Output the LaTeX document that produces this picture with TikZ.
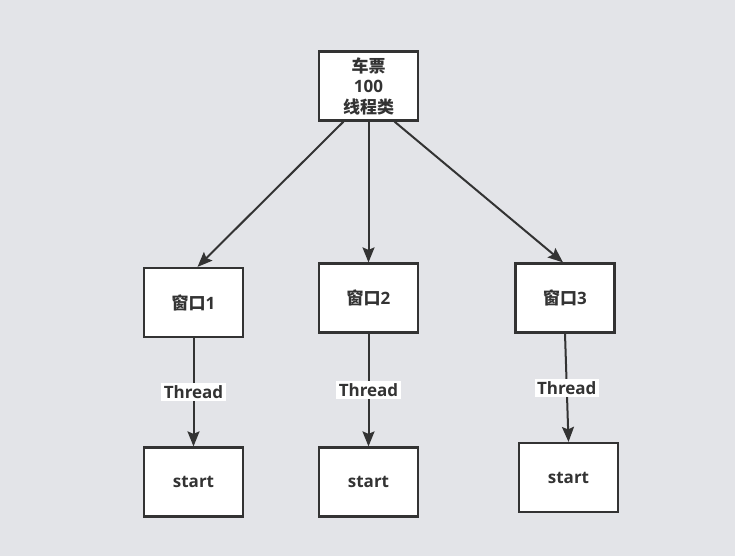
\documentclass[tikz,border=0pt]{standalone}
\usepackage{fontspec}
\setmainfont{Open Sans}
\newfontfamily\cjk{Noto Sans CJK SC}
\usetikzlibrary{positioning, arrows.meta}
\definecolor{bggray}{RGB}{227,228,232}
\definecolor{inkgray}{RGB}{51,51,51}

\begin{document}
\begin{tikzpicture}[x=1pt, y=-1pt,
		kasten/.style={
			rectangle,
			draw=inkgray, line width=2.2pt,
			fill=white,
			text=inkgray,
			font=\fontsize{17}{20.5}\selectfont\bfseries,
			minimum width=99pt,
			minimum height=69pt,
			align=center},
		arrow/.style={draw=inkgray, line width=2pt, -{Stealth[length=15pt, width=12pt, inset=2.5pt]}},
		tlabel/.style={fill=white, text=inkgray, inner sep=2.5pt,
			font=\fontsize{17}{19}\selectfont\bfseries}]
		\fill[bggray] (0,0) rectangle (735,556);
		\useasboundingbox (0,0) rectangle (735,556);
		\node[kasten] (tickets) at (368.5,86) {{\cjk 车票}\\100\\{\cjk 线程类}};
		\node[kasten] (w1) at (193.5,302.5) {{\cjk 窗口}1};
		\node[kasten] (w2) at (368.5,298) {{\cjk 窗口}2};
		\node[kasten] (w3) at (565,298) {{\cjk 窗口}3};
		\node[kasten] (s1) at (193.5,482) {start};
		\node[kasten] (s2) at (368.5,482) {start};
		\node[kasten] (s3) at (568.5,477.5) {start};
		\draw [arrow] ([xshift=-25pt]tickets.south) -- ([xshift=4pt]w1.north);
		\draw [arrow] (tickets.south) -- (w2.north);
		\draw [arrow] ([xshift=26pt]tickets.south) -- ([xshift=-2pt]w3.north);
		\draw [arrow] (w1) -- node[tlabel] {Thread} (s1);
		\draw [arrow] (w2) -- node[tlabel] {Thread} (s2);
		\draw [arrow] (w3.south) -- node[tlabel] {Thread} (s3.north);
\end{tikzpicture}
\end{document}
